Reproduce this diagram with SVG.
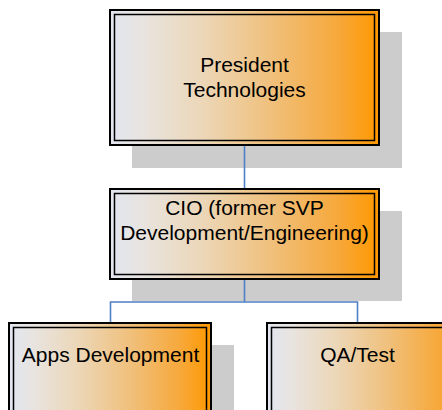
<svg xmlns="http://www.w3.org/2000/svg" width="442" height="410" viewBox="0 0 442 410">
  <defs>
    <linearGradient id="boxFill" x1="0" y1="0" x2="1" y2="0">
      <stop offset="0" stop-color="#e2e6f1"/>
      <stop offset="0.12" stop-color="#e8e4e0"/>
      <stop offset="0.35" stop-color="#ecd6b6"/>
      <stop offset="0.6" stop-color="#f0c07c"/>
      <stop offset="0.85" stop-color="#f7a83a"/>
      <stop offset="1" stop-color="#ff9800"/>
    </linearGradient>
  </defs>
  <style>
    .shadow { fill: #cccccc; }
    .outer { fill: url(#boxFill); stroke: #000000; stroke-width: 2; }
    .inner { fill: none; stroke: #000000; stroke-width: 1.5; }
    .label { font-family: "Liberation Sans", Arial, sans-serif; font-size: 21px; fill: #000000; text-anchor: middle; }
    .conn { fill: none; stroke: #4f7fc4; stroke-width: 1.6; }
  </style>
  <rect width="442" height="410" fill="#ffffff"/>

  <!-- shadows -->
  <rect class="shadow" x="132" y="32" width="270" height="136"/>
  <rect class="shadow" x="132" y="211" width="270" height="90"/>
  <rect class="shadow" x="31" y="345" width="203" height="80"/>

  <!-- connectors -->
  <g id="connectors">
    <path class="conn" d="M244.5 145 V189"/>
    <path class="conn" d="M244.5 279 V302 M110.5 323 V302 H357.5 V323"/>
  </g>

  <g id="president">
    <rect class="outer" x="110" y="10" width="269" height="135"/>
    <rect class="inner" x="114.5" y="14.5" width="260" height="126"/>
    <text class="label" x="244.5" y="72">President</text>
    <text class="label" x="244.5" y="97">Technologies</text>
  </g>

  <g id="cio">
    <rect class="outer" x="110" y="189" width="269" height="90"/>
    <rect class="inner" x="114.5" y="193.5" width="260" height="81"/>
    <text class="label" x="244.5" y="215">CIO (former SVP</text>
    <text class="label" x="244.5" y="240">Development/Engineering)</text>
  </g>

  <g id="apps">
    <rect class="outer" x="9" y="323" width="202" height="100"/>
    <rect class="inner" x="13.5" y="327.5" width="193" height="91"/>
    <text class="label" x="110.5" y="362">Apps Development</text>
  </g>

  <g id="qa">
    <rect class="outer" x="267" y="323" width="202" height="100"/>
    <rect class="inner" x="271.5" y="327.5" width="193" height="91"/>
    <text class="label" x="357.5" y="362">QA/Test</text>
  </g>
</svg>
